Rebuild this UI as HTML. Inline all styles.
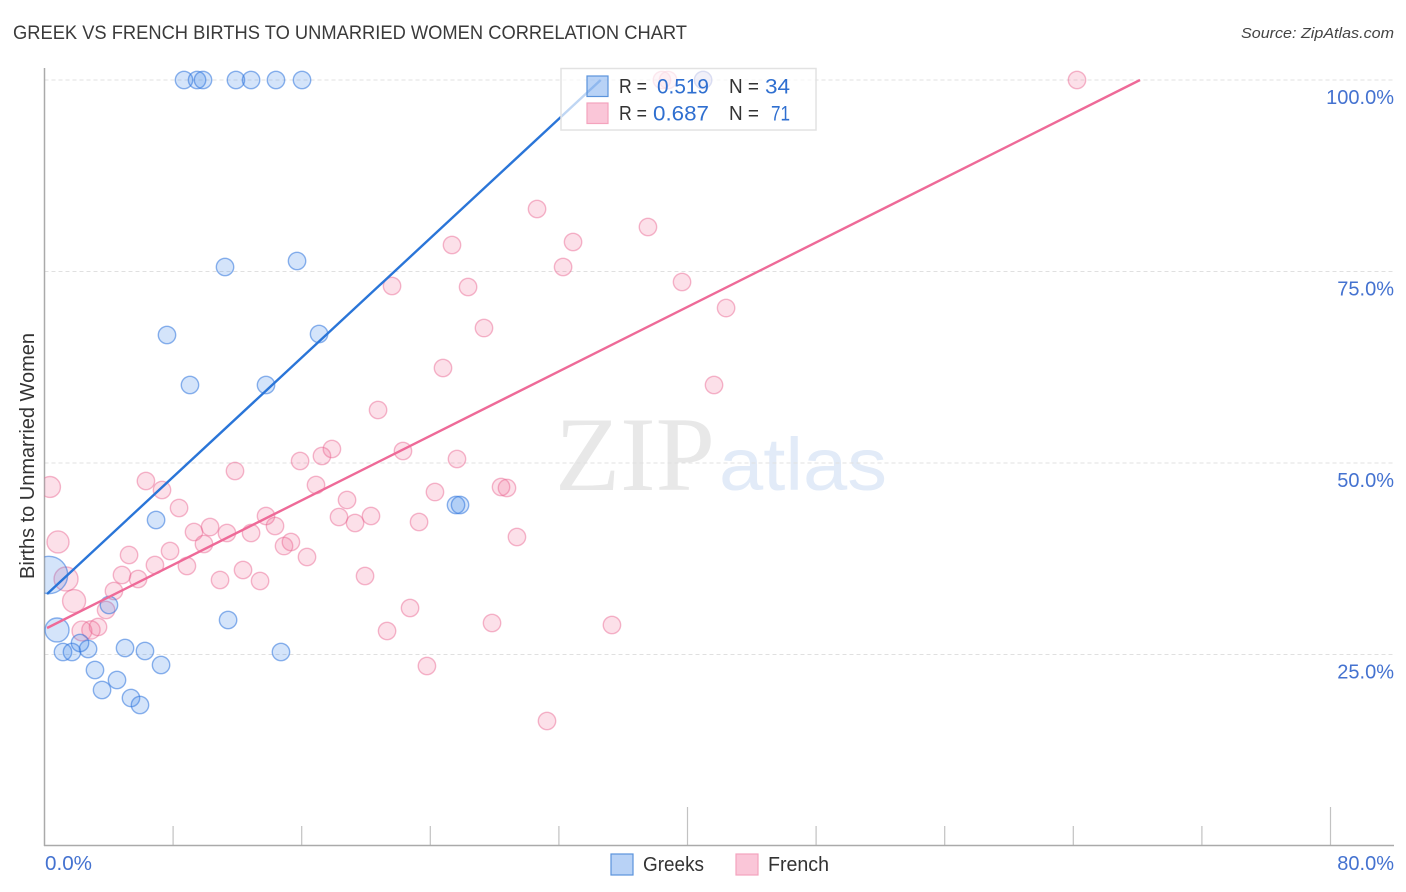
<!DOCTYPE html>
<html lang="en">
<head>
<meta charset="utf-8">
<title>Greek vs French Births to Unmarried Women Correlation Chart</title>
<style>
html,body{margin:0;padding:0;background:#fff;}
svg{display:block;font-family:"Liberation Sans",sans-serif;}
</style>
</head>
<body>
<svg id="chart" width="1406" height="892" viewBox="0 0 1406 892" xmlns="http://www.w3.org/2000/svg">
  <defs>
    <clipPath id="plot-clip"><rect x="44.5" y="60" width="1350" height="786"/></clipPath>
  </defs>
  <text x="13" y="39" font-size="19" fill="#3a3a3a" textLength="674" lengthAdjust="spacingAndGlyphs">GREEK VS FRENCH BIRTHS TO UNMARRIED WOMEN CORRELATION CHART</text>
  <text x="1241" y="38" font-size="15" font-style="italic" fill="#444" textLength="153" lengthAdjust="spacingAndGlyphs">Source: ZipAtlas.com</text>

  <g>
    <text x="555" y="490" font-family="'Liberation Serif',serif" font-size="106" fill="#e8e8e8" textLength="160" lengthAdjust="spacingAndGlyphs">ZIP</text>
    <text x="719" y="490" font-size="74" fill="#e2ebf8" textLength="168" lengthAdjust="spacingAndGlyphs">atlas</text>
  </g>

  <g id="grid"></g>
  <g id="ticks"></g>
  <line x1="44.5" y1="68" x2="44.5" y2="846" stroke="#aaa" stroke-width="1.5"/>
  <line x1="44" y1="845.5" x2="1394" y2="845.5" stroke="#aaa" stroke-width="1.5"/>
  <g id="ylabels"></g>
  <text x="45" y="870" font-size="20" fill="#4472d0" textLength="47" lengthAdjust="spacingAndGlyphs">0.0%</text>
  <text x="1394" y="870" font-size="20" fill="#4472d0" text-anchor="end">80.0%</text>
  <text transform="translate(34,456) rotate(-90)" font-size="20" fill="#333" text-anchor="middle" textLength="246" lengthAdjust="spacingAndGlyphs">Births to Unmarried Women</text>

  <g id="points" clip-path="url(#plot-clip)"></g>
  <g id="trends"></g>

  <g>
    <rect x="561" y="68.5" width="255" height="61.5" fill="#fff" fill-opacity="0.7" stroke="#e2e2e2" stroke-width="1.5"/>
    <rect x="587" y="76" width="21" height="20.5" fill="#3b82e6" fill-opacity="0.36" stroke="#5a93dc" stroke-width="1.2"/>
    <rect x="587" y="103" width="21" height="20.5" fill="#f06292" fill-opacity="0.36" stroke="#f4a3bd" stroke-width="1.2"/>
    <text x="619" y="93" font-size="20" fill="#333" textLength="28" lengthAdjust="spacingAndGlyphs">R =</text>
    <text x="657" y="93.5" font-size="21" fill="#2f6fd0" textLength="52" lengthAdjust="spacingAndGlyphs">0.519</text>
    <text x="729" y="93" font-size="20" fill="#333" textLength="30" lengthAdjust="spacingAndGlyphs">N =</text>
    <text x="765" y="93.5" font-size="21" fill="#2f6fd0" textLength="25" lengthAdjust="spacingAndGlyphs">34</text>
    <text x="619" y="120" font-size="20" fill="#333" textLength="28" lengthAdjust="spacingAndGlyphs">R =</text>
    <text x="653" y="120.5" font-size="21" fill="#2f6fd0" textLength="56" lengthAdjust="spacingAndGlyphs">0.687</text>
    <text x="729" y="120" font-size="20" fill="#333" textLength="30" lengthAdjust="spacingAndGlyphs">N =</text>
    <text x="771" y="120.5" font-size="21" fill="#2f6fd0" textLength="19" lengthAdjust="spacingAndGlyphs">71</text>
  </g>

  <g>
    <rect x="611" y="854" width="22" height="21" fill="#3b82e6" fill-opacity="0.36" stroke="#5a93dc" stroke-width="1.2"/>
    <text x="643" y="871" font-size="20" fill="#333" textLength="61" lengthAdjust="spacingAndGlyphs">Greeks</text>
    <rect x="736" y="854" width="22" height="21" fill="#f06292" fill-opacity="0.36" stroke="#f4a3bd" stroke-width="1.2"/>
    <text x="768" y="871" font-size="20" fill="#333" textLength="61" lengthAdjust="spacingAndGlyphs">French</text>
  </g>
</svg>
<script>
const yTickValues = [25, 50, 75, 100];
const yTickLabels = ["25.0%", "50.0%", "75.0%", "100.0%"];
const xTickValues = [8, 16, 24, 32, 40, 48, 56, 64, 72, 80];
const xMajorTicks = [40, 80];

const greekX = [8.68,9.49,9.86,11.91,12.85,14.40,16.02,11.23,15.71,7.62,17.08,9.05,13.78,6.94,25.60,25.85,4.01,11.42,0.78,0.28,1.15,1.71,2.71,2.21,5.01,6.25,7.25,3.14,4.51,3.58,5.38,5.94,14.71,40.97];
const greekY = [100,100,100,100,100,100,100,75.59,76.37,66.71,66.84,60.18,60.18,42.56,44.52,44.52,31.46,29.50,28.20,35.38,25.33,25.33,25.72,26.50,25.85,25.46,23.63,22.98,21.67,20.37,19.32,18.41,25.33,100];
const greekWeight = [1,1,1,1,1,1,1,1,1,1,1,1,1,1,1,1,1,1,1.9,4.6,1,1,1,1,1,1,1,1,1,1,1,1,1,1];

const frenchX = [0.34,0.84,1.34,1.84,2.33,2.89,3.33,3.83,4.32,4.82,5.26,5.82,6.31,6.87,7.31,7.81,8.37,8.86,9.30,9.92,10.30,10.92,11.35,11.85,12.35,12.85,13.41,13.78,14.34,14.90,15.33,15.90,16.33,16.89,17.26,17.88,18.32,18.82,19.32,19.94,20.31,20.75,21.31,21.62,22.30,22.74,23.30,23.79,24.29,24.79,25.35,25.66,26.35,27.34,27.84,28.40,28.77,29.39,30.64,31.26,32.26,32.88,35.30,37.54,39.66,41.65,42.40,64.23,38.41,38.79,40.97];
const frenchY = [46.87,39.69,34.86,31.98,28.07,28.20,28.59,30.81,33.29,35.38,37.99,34.86,47.65,36.68,46.48,38.51,44.13,36.55,40.99,39.43,41.64,34.73,40.86,48.96,36.03,40.86,34.60,43.08,41.78,39.16,39.69,50.26,37.73,47.13,50.91,51.83,42.95,45.17,42.17,35.25,43.08,56.92,28.07,73.11,51.57,31.07,42.30,23.50,46.21,62.40,78.46,50.52,72.98,67.62,29.11,46.87,46.74,40.34,83.16,16.32,75.59,78.85,28.85,80.81,73.63,60.18,70.23,100,100,100,100];
const frenchWeight = [1.45,1.6,1.9,1.75,1.3,1.1,1,1,1,1,1,1,1,1,1,1,1,1,1,1,1,1,1,1,1,1,1,1,1,1,1,1,1,1,1,1,1,1,1,1,1,1,1,1,1,1,1,1,1,1,1,1,1,1,1,1,1,1,1,1,1,1,1,1,1,1,1,1,1,1,1];

const greekTrendX = [0.16, 34.6];
const greekTrendY = [32.9, 100];
const frenchTrendX = [0.16, 68.15];
const frenchTrendY = [28.46, 100];

const NS = "http://www.w3.org/2000/svg";
function xScale(v) { return 44.5 + v * 16.075; }
function yScale(v) { return 846 - v * 7.66; }
function radius(w) { return 8.7 * Math.sqrt(w); }

const gridG = document.getElementById("grid");
const labelG = document.getElementById("ylabels");
yTickValues.forEach(function (v, i) {
  const ln = document.createElementNS(NS, "line");
  
  
  ln.setAttribute("x1", 44.5);
  ln.setAttribute("x2", 1394);
  ln.setAttribute("y1", yScale(v));
  ln.setAttribute("y2", yScale(v));
  ln.setAttribute("stroke", "#e0e0e0");
  ln.setAttribute("stroke-width", "1");
  ln.setAttribute("stroke-dasharray", "4 3");
  gridG.appendChild(ln);
  const t = document.createElementNS(NS, "text");
  
  
  t.setAttribute("x", 1394);
  t.setAttribute("y", yScale(v) + 24);
  t.setAttribute("font-size", "20");
  t.setAttribute("fill", "#4472d0");
  t.setAttribute("text-anchor", "end");
  t.textContent = yTickLabels[i];
  labelG.appendChild(t);
});

const tickG = document.getElementById("ticks");
xTickValues.forEach(function (v) {
  const ln = document.createElementNS(NS, "line");
  
  
  ln.setAttribute("x1", xScale(v));
  ln.setAttribute("x2", xScale(v));
  ln.setAttribute("y1", xMajorTicks.indexOf(v) >= 0 ? 807 : 826);
  ln.setAttribute("y2", 846);
  ln.setAttribute("stroke", "#c2c2c2");
  ln.setAttribute("stroke-width", "1.2");
  tickG.appendChild(ln);
});

const pointsG = document.getElementById("points");
frenchX.forEach(function (x, i) {
  const c = document.createElementNS(NS, "circle");
  
  
  c.setAttribute("cx", xScale(x));
  c.setAttribute("cy", yScale(frenchY[i]));
  c.setAttribute("r", radius(frenchWeight[i]));
  c.setAttribute("fill", "#f06292");
  c.setAttribute("fill-opacity", "0.2");
  c.setAttribute("stroke", "#e8628e");
  c.setAttribute("stroke-opacity", "0.45");
  c.setAttribute("stroke-width", "1.4");
  pointsG.appendChild(c);
});
greekX.forEach(function (x, i) {
  const c = document.createElementNS(NS, "circle");
  
  
  c.setAttribute("cx", xScale(x));
  c.setAttribute("cy", yScale(greekY[i]));
  c.setAttribute("r", radius(greekWeight[i]));
  c.setAttribute("fill", "#3b82e6");
  c.setAttribute("fill-opacity", "0.22");
  c.setAttribute("stroke", "#2f74dc");
  c.setAttribute("stroke-opacity", "0.55");
  c.setAttribute("stroke-width", "1.4");
  pointsG.appendChild(c);
});

const trendG = document.getElementById("trends");
const frenchLine = document.createElementNS(NS, "line");


frenchLine.setAttribute("x1", xScale(frenchTrendX[0]));
frenchLine.setAttribute("y1", yScale(frenchTrendY[0]));
frenchLine.setAttribute("x2", xScale(frenchTrendX[1]));
frenchLine.setAttribute("y2", yScale(frenchTrendY[1]));
frenchLine.setAttribute("stroke", "#ee6a98");
frenchLine.setAttribute("stroke-width", "2.4");
trendG.appendChild(frenchLine);
const greekLine = document.createElementNS(NS, "line");


greekLine.setAttribute("x1", xScale(greekTrendX[0]));
greekLine.setAttribute("y1", yScale(greekTrendY[0]));
greekLine.setAttribute("x2", xScale(greekTrendX[1]));
greekLine.setAttribute("y2", yScale(greekTrendY[1]));
greekLine.setAttribute("stroke", "#2a75d8");
greekLine.setAttribute("stroke-width", "2.4");
trendG.appendChild(greekLine);
</script>
</body>
</html>
